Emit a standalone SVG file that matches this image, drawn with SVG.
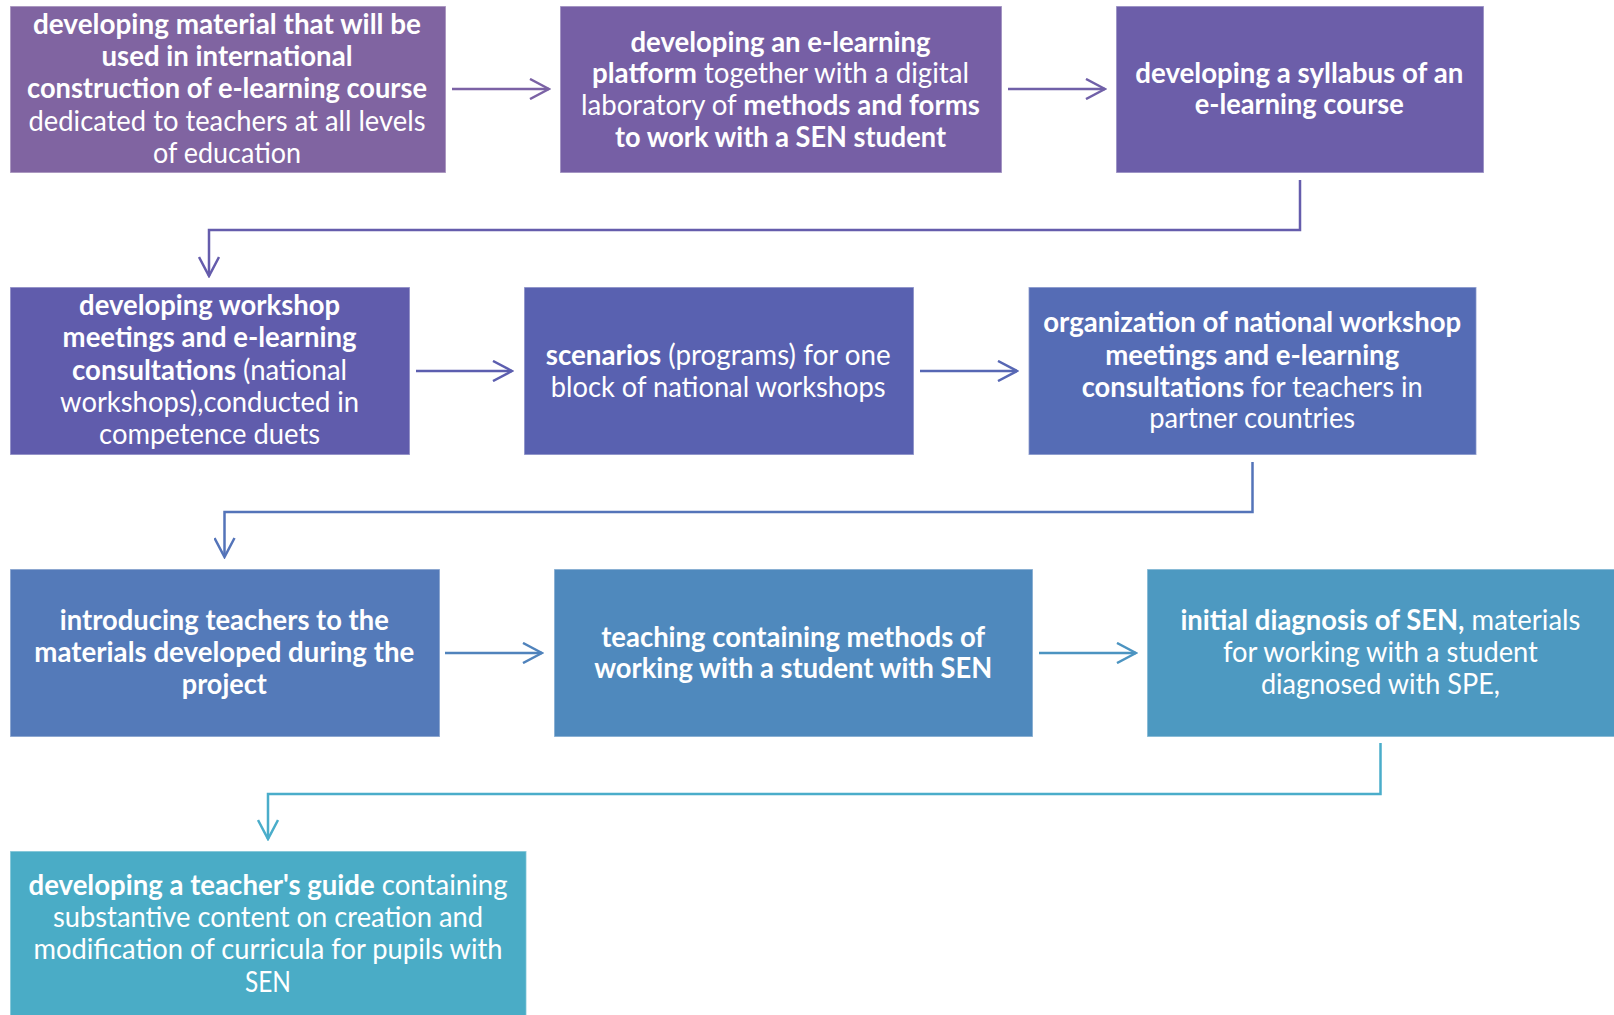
<svg xmlns="http://www.w3.org/2000/svg" width="1614" height="1015" viewBox="0 0 1614 1015">
<style>
.box{stroke:#ffffff;stroke-opacity:0.45;stroke-width:1.5}
.t{font-family:Lato,"Open Sans","Liberation Sans",sans-serif;font-size:28px;fill:#ffffff;text-anchor:middle}
.b{font-weight:700}
.c{fill:none;stroke-width:2.5}
</style>
<defs>
<marker id="m1" viewBox="0 0 22 22" refX="20" refY="11" markerWidth="22" markerHeight="22" markerUnits="userSpaceOnUse" orient="auto"><path d="M1,1 L20,11 L1,21" fill="none" stroke="#7B62A5" stroke-width="2.5"/></marker>
<marker id="m2" viewBox="0 0 22 22" refX="20" refY="11" markerWidth="22" markerHeight="22" markerUnits="userSpaceOnUse" orient="auto"><path d="M1,1 L20,11 L1,21" fill="none" stroke="#7060A8" stroke-width="2.5"/></marker>
<marker id="m3" viewBox="0 0 22 22" refX="20" refY="11" markerWidth="22" markerHeight="22" markerUnits="userSpaceOnUse" orient="auto"><path d="M1,1 L20,11 L1,21" fill="none" stroke="#655CAC" stroke-width="2.5"/></marker>
<marker id="m4" viewBox="0 0 22 22" refX="20" refY="11" markerWidth="22" markerHeight="22" markerUnits="userSpaceOnUse" orient="auto"><path d="M1,1 L20,11 L1,21" fill="none" stroke="#5C5EAF" stroke-width="2.5"/></marker>
<marker id="m5" viewBox="0 0 22 22" refX="20" refY="11" markerWidth="22" markerHeight="22" markerUnits="userSpaceOnUse" orient="auto"><path d="M1,1 L20,11 L1,21" fill="none" stroke="#5767B4" stroke-width="2.5"/></marker>
<marker id="m6" viewBox="0 0 22 22" refX="20" refY="11" markerWidth="22" markerHeight="22" markerUnits="userSpaceOnUse" orient="auto"><path d="M1,1 L20,11 L1,21" fill="none" stroke="#5474B9" stroke-width="2.5"/></marker>
<marker id="m7" viewBox="0 0 22 22" refX="20" refY="11" markerWidth="22" markerHeight="22" markerUnits="userSpaceOnUse" orient="auto"><path d="M1,1 L20,11 L1,21" fill="none" stroke="#5083BC" stroke-width="2.5"/></marker>
<marker id="m8" viewBox="0 0 22 22" refX="20" refY="11" markerWidth="22" markerHeight="22" markerUnits="userSpaceOnUse" orient="auto"><path d="M1,1 L20,11 L1,21" fill="none" stroke="#4C94C1" stroke-width="2.5"/></marker>
<marker id="m9" viewBox="0 0 22 22" refX="20" refY="11" markerWidth="22" markerHeight="22" markerUnits="userSpaceOnUse" orient="auto"><path d="M1,1 L20,11 L1,21" fill="none" stroke="#4AADCA" stroke-width="2.5"/></marker>
</defs>

<g id="connectors">
<path class="c" stroke="#7B62A5" d="M452,89 H549" marker-end="url(#m1)"/>
<path class="c" stroke="#7060A8" d="M1008,89 H1105" marker-end="url(#m2)"/>
<path class="c" stroke="#655CAC" d="M1300,180 V230 H209 V276" marker-end="url(#m3)"/>
<path class="c" stroke="#5C5EAF" d="M416,371 H512" marker-end="url(#m4)"/>
<path class="c" stroke="#5767B4" d="M920,371 H1017" marker-end="url(#m5)"/>
<path class="c" stroke="#5474B9" d="M1252.5,462 V512 H224.5 V557" marker-end="url(#m6)"/>
<path class="c" stroke="#5083BC" d="M445,653 H542" marker-end="url(#m7)"/>
<path class="c" stroke="#4C94C1" d="M1039,653 H1136" marker-end="url(#m8)"/>
<path class="c" stroke="#4AADCA" d="M1380.5,743 V794 H268 V839" marker-end="url(#m9)"/>
</g>

<g id="node1">
<rect class="box" x="10" y="6" width="436" height="167" fill="#8064A1"/>
<text class="t b" x="227" y="33.5" textLength="388" lengthAdjust="spacingAndGlyphs">developing material that will be</text>
<text class="t b" x="227" y="66" textLength="251" lengthAdjust="spacingAndGlyphs">used in international</text>
<text class="t b" x="227" y="98.2" textLength="400" lengthAdjust="spacingAndGlyphs">construction of e-learning course</text>
<text class="t" x="227" y="130.5" textLength="397" lengthAdjust="spacingAndGlyphs">dedicated to teachers at all levels</text>
<text class="t" x="227" y="162.5" textLength="148" lengthAdjust="spacingAndGlyphs">of education</text>
</g>

<g id="node2">
<rect class="box" x="560" y="6" width="442" height="167" fill="#765FA5"/>
<text class="t b" x="780.5" y="51.5" textLength="300" lengthAdjust="spacingAndGlyphs">developing an e-learning</text>
<text class="t" x="780.5" y="83.2" textLength="377" lengthAdjust="spacingAndGlyphs"><tspan class="b">platform</tspan> together with a digital</text>
<text class="t" x="780.5" y="114.5" textLength="399" lengthAdjust="spacingAndGlyphs">laboratory of <tspan class="b">methods and forms</tspan></text>
<text class="t b" x="780.5" y="146.5" textLength="331" lengthAdjust="spacingAndGlyphs">to work with a SEN student</text>
</g>

<g id="node3">
<rect class="box" x="1116" y="6" width="368" height="167" fill="#6C5EA9"/>
<text class="t b" x="1299.3" y="82.5" textLength="328" lengthAdjust="spacingAndGlyphs">developing a syllabus of an</text>
<text class="t b" x="1299.3" y="114.2" textLength="209" lengthAdjust="spacingAndGlyphs">e-learning course</text>
</g>

<g id="node4">
<rect class="box" x="10" y="287" width="400" height="168" fill="#605CAC"/>
<text class="t b" x="209.6" y="314.8" textLength="261" lengthAdjust="spacingAndGlyphs">developing workshop</text>
<text class="t b" x="209.6" y="347.2" textLength="294" lengthAdjust="spacingAndGlyphs">meetings and e-learning</text>
<text class="t" x="209.6" y="379.8" textLength="275" lengthAdjust="spacingAndGlyphs"><tspan class="b">consultations</tspan> (national</text>
<text class="t" x="209.6" y="411.5" textLength="299" lengthAdjust="spacingAndGlyphs">workshops),conducted in</text>
<text class="t" x="209.6" y="443.8" textLength="221" lengthAdjust="spacingAndGlyphs">competence duets</text>
</g>

<g id="node5">
<rect class="box" x="524" y="287" width="390" height="168" fill="#5961B0"/>
<text class="t" x="718.2" y="364.8" textLength="345" lengthAdjust="spacingAndGlyphs"><tspan class="b">scenarios</tspan> (programs) for one</text>
<text class="t" x="718.2" y="396.5" textLength="335" lengthAdjust="spacingAndGlyphs">block of national workshops</text>
</g>

<g id="node6">
<rect class="box" x="1028.5" y="287" width="448" height="168" fill="#556CB5"/>
<text class="t b" x="1252.2" y="332.2" textLength="418" lengthAdjust="spacingAndGlyphs">organization of national workshop</text>
<text class="t b" x="1252.2" y="364.8" textLength="294" lengthAdjust="spacingAndGlyphs">meetings and e-learning</text>
<text class="t" x="1252.2" y="396.5" textLength="341" lengthAdjust="spacingAndGlyphs"><tspan class="b">consultations</tspan> for teachers in</text>
<text class="t" x="1252.2" y="428.2" textLength="206" lengthAdjust="spacingAndGlyphs">partner countries</text>
</g>

<g id="node7">
<rect class="box" x="10" y="569" width="430" height="168" fill="#547AB9"/>
<text class="t b" x="224.3" y="629.8" textLength="329" lengthAdjust="spacingAndGlyphs">introducing teachers to the</text>
<text class="t b" x="224.3" y="662.2" textLength="380" lengthAdjust="spacingAndGlyphs">materials developed during the</text>
<text class="t b" x="224.3" y="694.2" textLength="85" lengthAdjust="spacingAndGlyphs">project</text>
</g>

<g id="node8">
<rect class="box" x="554" y="569" width="479" height="168" fill="#4F89BD"/>
<text class="t b" x="793.2" y="646.5" textLength="384" lengthAdjust="spacingAndGlyphs">teaching containing methods of</text>
<text class="t b" x="793.2" y="678.2" textLength="398" lengthAdjust="spacingAndGlyphs">working with a student with SEN</text>
</g>

<g id="node9">
<rect class="box" x="1147" y="569" width="470" height="168" fill="#4D99C1"/>
<text class="t" x="1380.4" y="629.8" textLength="400" lengthAdjust="spacingAndGlyphs"><tspan class="b">initial diagnosis of SEN,</tspan> materials</text>
<text class="t" x="1380.4" y="662.2" textLength="315" lengthAdjust="spacingAndGlyphs">for working with a student</text>
<text class="t" x="1380.4" y="694.2" textLength="239" lengthAdjust="spacingAndGlyphs">diagnosed with SPE,</text>
</g>

<g id="node10">
<rect class="box" x="10" y="851" width="516.5" height="170" fill="#4AACC6"/>
<text class="t" x="268" y="894.8" textLength="479" lengthAdjust="spacingAndGlyphs"><tspan class="b">developing a teacher's guide</tspan> containing</text>
<text class="t" x="268" y="927.2" textLength="430" lengthAdjust="spacingAndGlyphs">substantive content on creation and</text>
<text class="t" x="268" y="959.2" textLength="469" lengthAdjust="spacingAndGlyphs">modification of curricula for pupils with</text>
<text class="t" x="268" y="991.5" textLength="46" lengthAdjust="spacingAndGlyphs">SEN</text>
</g>
</svg>
